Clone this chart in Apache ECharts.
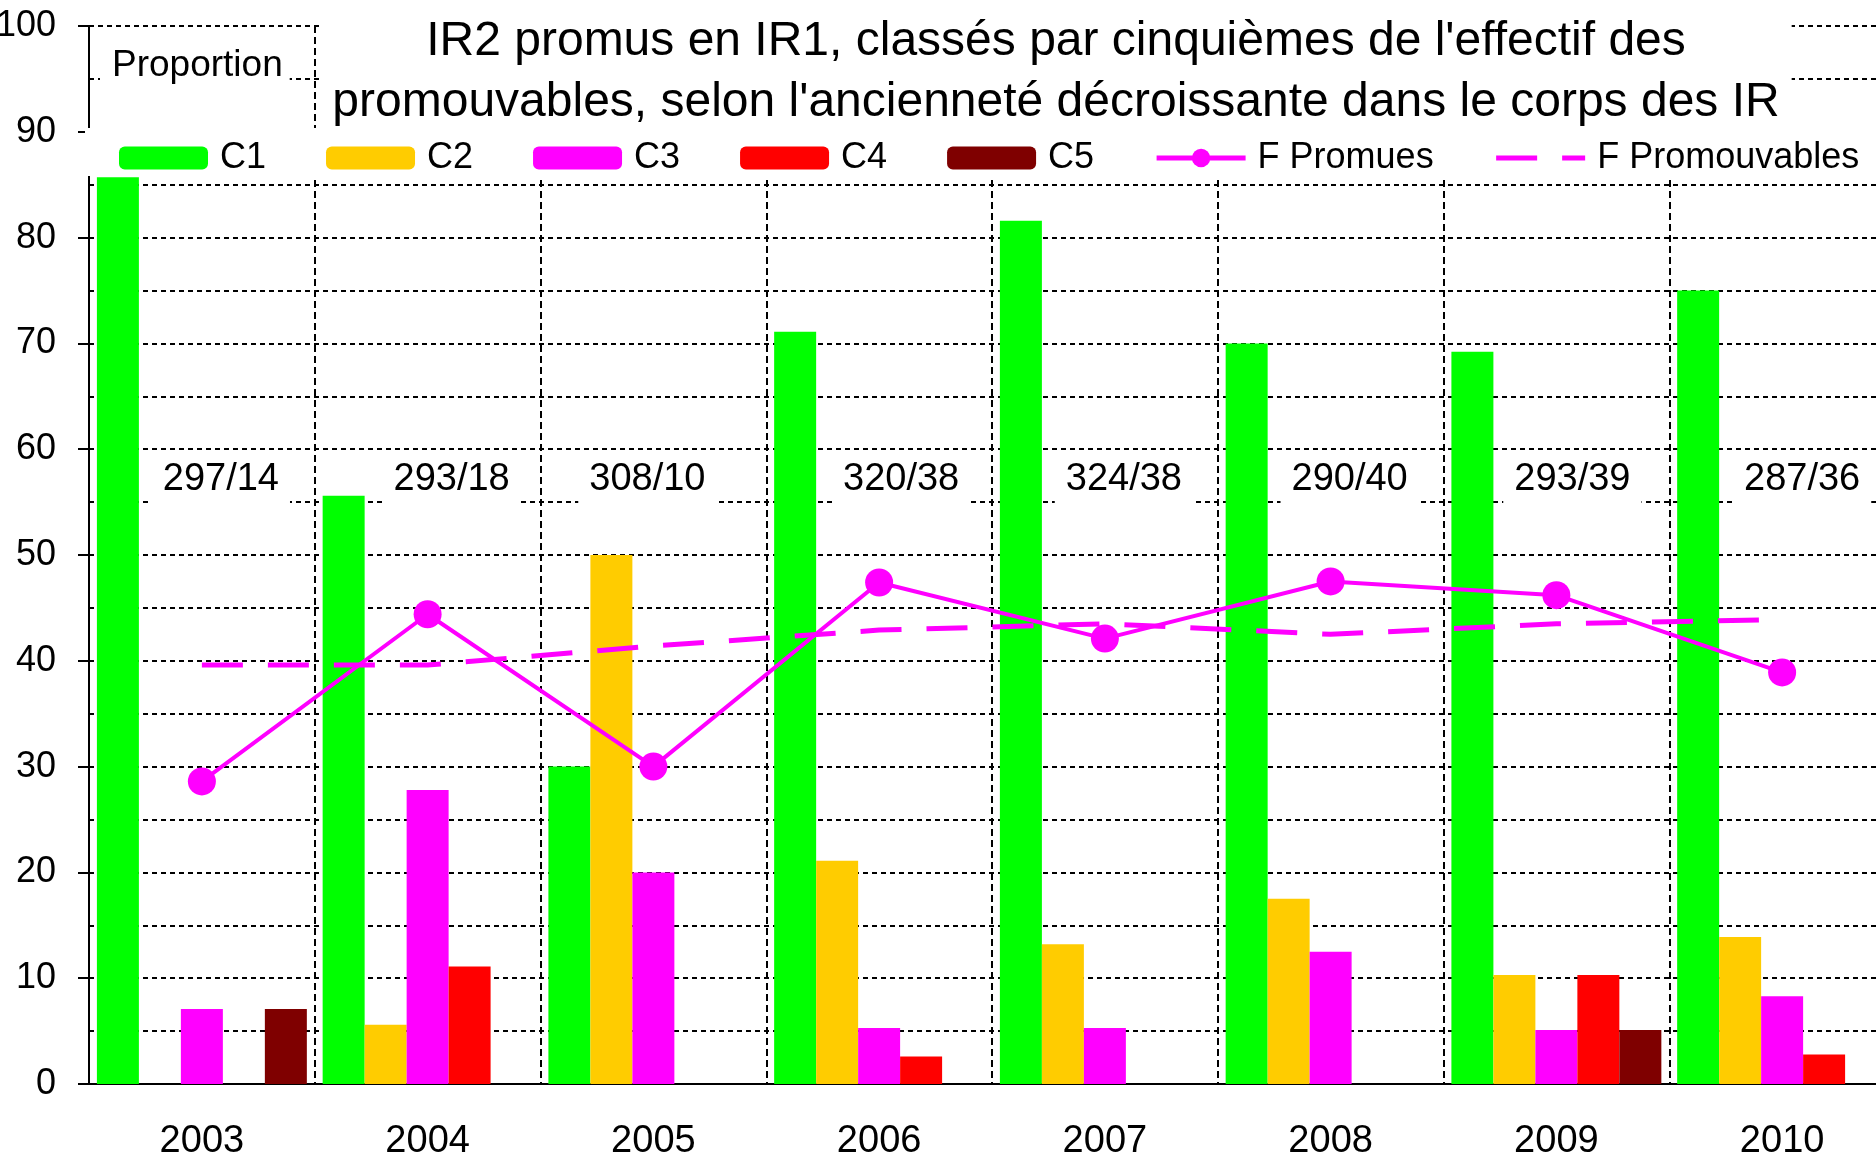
<!DOCTYPE html>
<html>
<head>
<meta charset="utf-8">
<script src="https://cdn.jsdelivr.net/npm/echarts@6/dist/echarts.min.js"></script>
<style>
  html, body { margin: 0; padding: 0; background: #fff; }
  #chart { width: 1876px; height: 1165px; }
</style>
</head>
<body>
<div id="chart"></div>
<script>
// années
const years = ['2003', '2004', '2005', '2006', '2007', '2008', '2009', '2010'];
// proportion des promus par cinquième (%)
const c1 = [85.7, 55.6, 30.0, 71.1, 81.6, 70.0, 69.2, 75.0];
const c2 = [0, 5.6, 50.0, 21.1, 13.2, 17.5, 10.3, 13.9];
const c3 = [7.1, 27.8, 20.0, 5.3, 5.3, 12.5, 5.1, 8.3];
const c4 = [0, 11.1, 0, 2.6, 0, 0, 10.3, 2.8];
const c5 = [7.1, 0, 0, 0, 0, 0, 5.1, 0];
// part des femmes
const fPromues = [28.6, 44.4, 30.0, 47.4, 42.1, 47.5, 46.2, 38.9];
const fPromouvables = [39.6, 39.6, 41.4, 42.9, 43.5, 42.5, 43.5, 43.9];
// promouvables / promus
const notes = ['297/14', '293/18', '308/10', '320/38', '324/38', '290/40', '293/39', '287/36'];
const noteLevel = 57.1;

const FONT = "'Liberation Sans', Arial, sans-serif";
const noteShift = [19, 24, -6, 22, 19, 19, 16, 20]; // décalage horizontal des étiquettes

const chart = echarts.init(document.getElementById('chart'));

function barSeries(name, data, color) {
  return {
    name: name,
    type: 'bar',
    data: data,
    barGap: '0%',
    barCategoryGap: '7%',
    itemStyle: { color: color }
  };
}

const option = {
  animation: false,
  backgroundColor: '#fff',
  title: [{
    text: "IR2 promus en IR1, classés par cinquièmes de l'effectif des\npromouvables, selon l'ancienneté décroissante dans le corps des IR",
    left: 1044,
    top: 0,
    textAlign: 'center',
    padding: [11, 12, 0, 12],
    backgroundColor: '#fff',
    textStyle: { fontFamily: FONT, fontSize: 48, fontWeight: 'normal', color: '#000', lineHeight: 61 }
  }, {
    text: 'Proportion',
    left: 100,
    top: 42,
    padding: [4, 7, 9, 12],
    backgroundColor: '#fff',
    textStyle: { fontFamily: FONT, fontSize: 37, fontWeight: 'normal', color: '#000', lineHeight: 40 }
  }],
  legend: {
    data: [
      'C1', 'C2', 'C3', 'C4', 'C5',
      { name: 'F Promues', lineStyle: { width: 5 } },
      { name: 'F Promouvables', lineStyle: { width: 5 }, itemStyle: { opacity: 0 } }
    ],
    left: 85,
    top: 128,
    width: 1900,
    padding: [12, 30, 0, 34],
    itemGap: 60,
    itemWidth: 89,
    itemHeight: 23,
    backgroundColor: '#fff',
    textStyle: { fontFamily: FONT, fontSize: 36, color: '#000', padding: [0, 0, 0, 7], lineHeight: 24 }
  },
  grid: { left: 89, top: 26, width: 1806, bottom: 81, containLabel: false, outerBoundsMode: 'none' },
  xAxis: {
    type: 'category',
    data: years,
    axisLine: { lineStyle: { color: '#000', width: 2 } },
    axisTick: { length: 13, lineStyle: { color: '#000', width: 2 } },
    axisLabel: { fontFamily: FONT, fontSize: 38, color: '#000', margin: 39 },
    splitLine: { show: true, interval: 0, lineStyle: { color: '#000', width: 2, type: [7, 4] } }
  },
  yAxis: {
    type: 'value',
    min: 0,
    max: 100,
    interval: 10,
    axisLine: { show: true, lineStyle: { color: '#000', width: 2 } },
    axisTick: { show: true, length: 11, lineStyle: { color: '#000', width: 2 } },
    axisLabel: { fontFamily: FONT, fontSize: 36, color: '#000', margin: 33 },
    splitLine: { show: true, lineStyle: { color: '#000', width: 2, type: [5, 4] } },
    minorTick: { show: false, splitNumber: 2 },
    minorSplitLine: { show: true, lineStyle: { color: '#000', width: 2, type: [5, 4] } }
  },
  series: [
    barSeries('C1', c1, '#00FF00'),
    barSeries('C2', c2, '#FFCC00'),
    barSeries('C3', c3, '#FF00FF'),
    barSeries('C4', c4, '#FF0000'),
    barSeries('C5', c5, '#7F0000'),
    {
      name: 'F Promues',
      type: 'line',
      data: fPromues,
      symbol: 'circle',
      symbolSize: 28,
      itemStyle: { color: '#FF00FF' },
      lineStyle: { color: '#FF00FF', width: 4 }
    },
    {
      name: 'F Promouvables',
      type: 'line',
      data: fPromouvables,
      symbol: 'none',
      itemStyle: { color: '#FF00FF' },
      lineStyle: { color: '#FF00FF', width: 5, type: [41, 25] }
    },
    {
      name: 'notes',
      type: 'scatter',
      symbolSize: 0,
      silent: true,
      itemStyle: { opacity: 1 },
      data: notes.map(function (t, i) {
        return { value: noteLevel, label: { offset: [noteShift[i], 0] } };
      }),
      label: {
        show: true,
        position: 'inside',
        formatter: function (p) { return notes[p.dataIndex]; },
        fontFamily: FONT,
        fontSize: 38,
        color: '#000',
        lineHeight: 36,
        backgroundColor: '#fff',
        padding: [6, 11, 12, 11]
      }
    }
  ]
};

chart.setOption(option);
</script>
</body>
</html>
